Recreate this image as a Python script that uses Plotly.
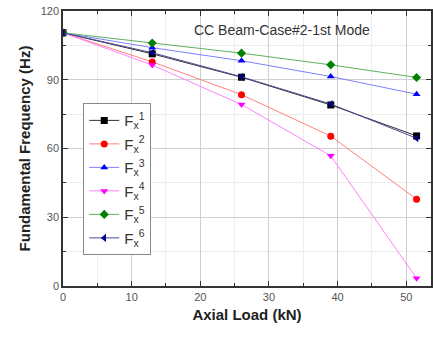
import plotly.graph_objects as go

# Axial load steps (kN)
axial_load = [0, 13, 26, 39, 51.5]

# Fundamental frequency (Hz) for each force case
fx1 = [110.5, 101.3, 91.1, 79.0, 65.5]
fx2 = [110.5, 97.8, 83.5, 65.4, 37.9]
fx3 = [110.5, 104.0, 98.3, 91.4, 83.7]
fx4 = [110.5, 96.4, 79.2, 56.8, 3.4]
fx5 = [110.5, 106.0, 101.6, 96.5, 91.0]
fx6 = [110.5, 101.8, 91.3, 79.4, 64.5]

series_names = ["F<sub>x</sub><sup>1</sup>", "F<sub>x</sub><sup>2</sup>",
                "F<sub>x</sub><sup>3</sup>", "F<sub>x</sub><sup>4</sup>",
                "F<sub>x</sub><sup>5</sup>", "F<sub>x</sub><sup>6</sup>"]
series_values = [fx1, fx2, fx3, fx4, fx5, fx6]
marker_colors = ["#000000", "#ff0000", "#0000ff", "#ff00ff", "#008000", "#000080"]
line_colors = ["#333333", "#ff8080", "#8080ff", "#ff80ff", "#60b060", "#4a4a9a"]
symbols = ["square", "circle", "triangle-up", "triangle-down", "diamond", "triangle-left"]

fig = go.Figure()
for i, (name, vals, mcol, lcol, sym) in enumerate(
        zip(series_names, series_values, marker_colors, line_colors, symbols)):
    fig.add_trace(go.Scatter(
        x=axial_load, y=vals, name=name, mode="lines+markers",
        legendgroup=f"g{i}",
        line=dict(color=lcol, width=1),
        marker=dict(symbol=sym, size=7, color=mcol),
    ))

axis_common = dict(
    showline=True, linecolor="#333", linewidth=1.5, mirror="ticks",
    ticks="inside", ticklen=5, tickcolor="#333",
    showgrid=True, gridcolor="#cfcfcf", gridwidth=1,
    zeroline=False,
    tickfont=dict(family="Liberation Sans, Arial", size=11, color="#555"),
    title_font=dict(family="Liberation Sans, Arial", size=15, color="#222"),
)

fig.update_xaxes(
    range=[0, 53.6], dtick=10, tick0=0,
    minor=dict(dtick=5, ticks="inside", ticklen=3, tickcolor="#333",
               showgrid=True, gridcolor="#ededed"),
    title=dict(text="<b>Axial Load (kN)</b>", standoff=8),
    **axis_common,
)
fig.update_yaxes(
    range=[0, 120], dtick=30, tick0=0,
    minor=dict(dtick=15, ticks="inside", ticklen=3, tickcolor="#333",
               showgrid=True, gridcolor="#ededed"),
    title=dict(text="<b>Fundamental Frequency (Hz)</b>", standoff=6),
    **axis_common,
)

fig.add_annotation(
    x=0.595, y=0.93, xref="paper", yref="paper",
    xanchor="center", yanchor="middle",
    text="CC Beam-Case#2-1st Mode", showarrow=False,
    font=dict(family="Liberation Sans, Arial", size=14, color="#333"),
)

fig.update_layout(
    width=433, height=338,
    margin=dict(l=63, r=0, t=11, b=52),
    paper_bgcolor="white", plot_bgcolor="white",
    legend=dict(
        x=0.055, y=0.665, xanchor="left", yanchor="top",
        bgcolor="white", bordercolor="#888", borderwidth=1,
        font=dict(family="Liberation Sans, Arial", size=15, color="#333"),
        itemwidth=30, tracegroupgap=1,
    ),
)

fig.write_html("out.html")
